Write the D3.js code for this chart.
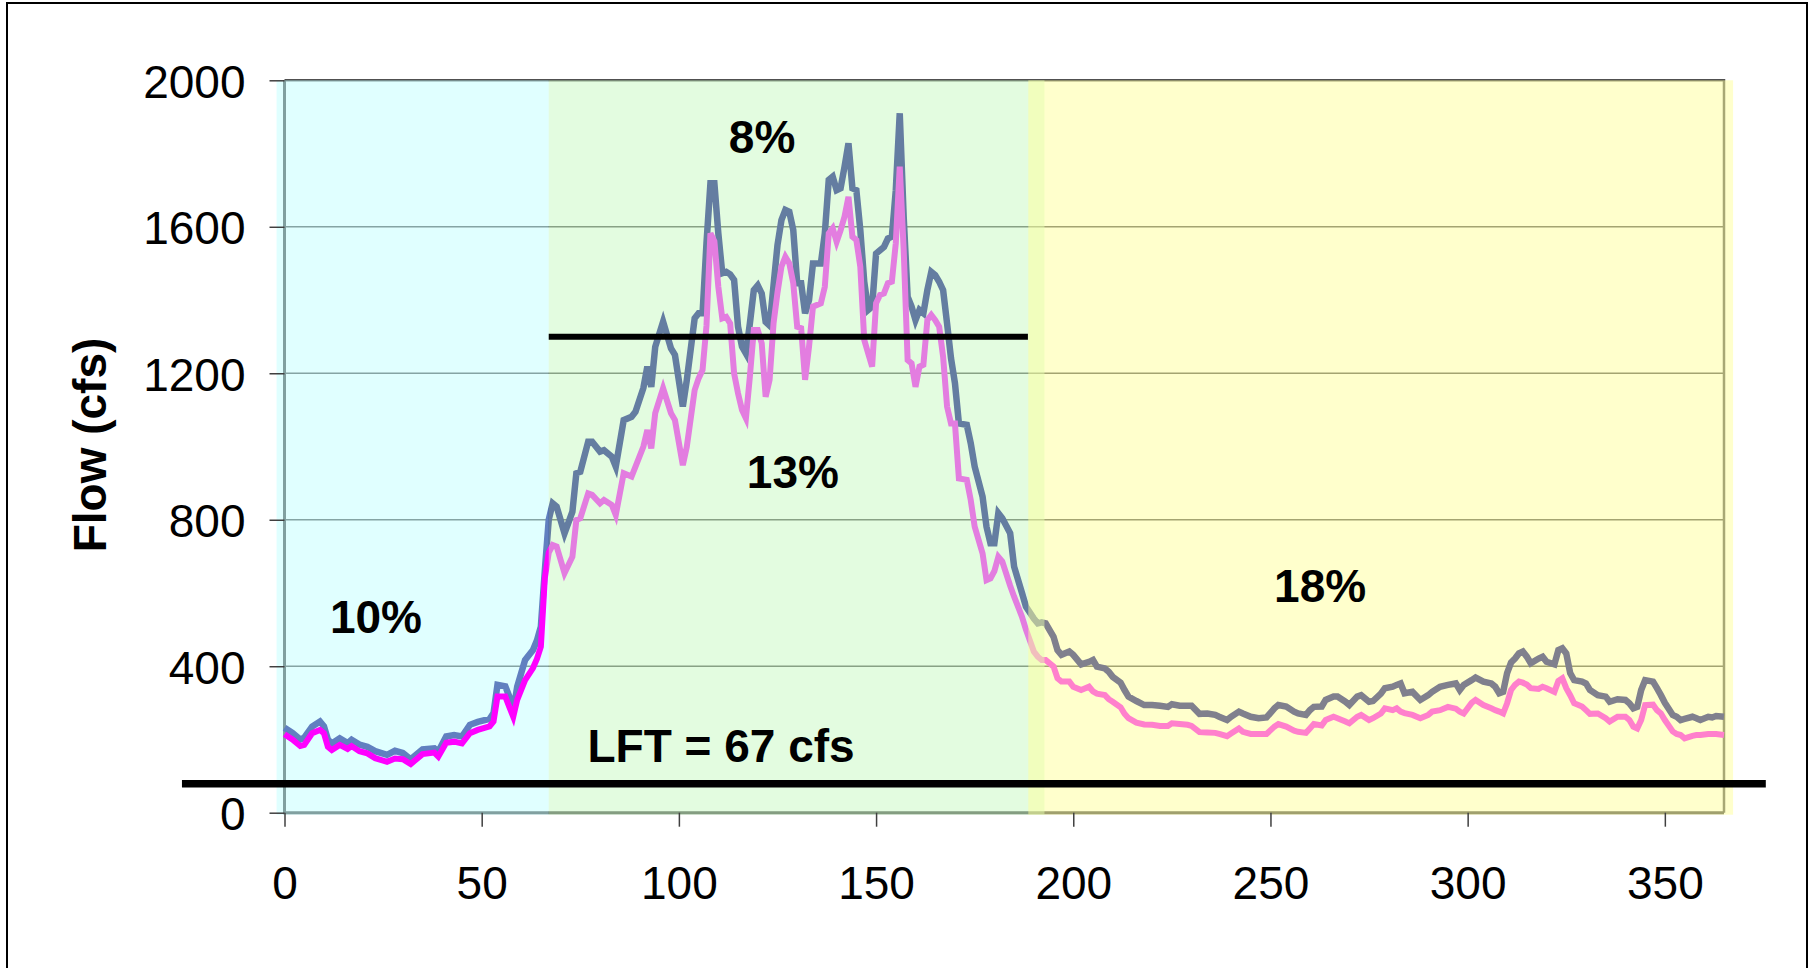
<!DOCTYPE html>
<html><head><meta charset="utf-8">
<script src="https://cdn.jsdelivr.net/npm/d3@7/dist/d3.min.js"></script>
<style>
html,body{margin:0;padding:0;background:#fff;}
svg{display:block;font-family:"Liberation Sans",Arial,Helvetica,sans-serif;}
</style>
</head><body>
<svg id="chart" width="1816" height="968"></svg>
<script>
// ---- data ----
const days = [
  0,2,4,5,7,9,10,11,12,14,
  16,17,19,21,23,26,28,30,32,35,
  38,39,41,43,45,47,49,52,53,54,
  56,57,58,59,61,63,64,65,66,67,
  68,69,71,73,74,75,77,78,80,81,
  83,84,86,88,89,91,92,93,94,96,
  98,99,101,102,104,105,106,107,108,109,
  110,111,112,113,114,115,116,117,118,119,
  120,121,122,123,124,125,126,127,128,129,
  130,131,132,133,134,136,137,138,139,140,
  141,142,143,144,145,146,147,148,149,150,
  151,152,153,154,155,156,157,158,159,160,
  161,162,163,164,165,166,167,168,169,170,
  171,173,174,175,177,178,179,180,181,182,
  184,185,187,188,190,191,192,193,195,196,
  197,199,200,202,204,205,206,208,209,210,
  212,213,214,216,218,220,222,224,225,227,
  229,230,232,234,236,237,239,240,242,243,
  245,247,249,251,252,254,256,257,259,260,
  261,263,264,266,267,269,270,272,273,275,
  276,278,279,281,282,283,284,286,288,290,
  291,293,295,297,298,299,301,302,304,306,
  307,308,309,310,311,312,313,314,315,316,
  318,319,320,322,323,324,325,326,327,329,
  330,331,333,335,336,338,340,341,342,343,
  344,345,347,348,349,350,352,353,354,355,
  357,358,359,361,362,363,365
];
const flowUnimpaired = [
  232,218,200,205,235,249,236,200,189,203,
  190,199,186,180,168,158,169,163,146,173,
  176,167,208,212,208,240,248,256,272,349,
  345,317,275,344,417,444,470,508,660,800,
  845,836,763,822,927,931,1013,1013,986,990,
  972,945,1072,1081,1095,1160,1218,1163,1272,1341,
  1268,1250,1109,1181,1350,1364,1364,1555,1719,1719,
  1582,1473,1477,1470,1455,1327,1273,1254,1336,1427,
  1440,1418,1340,1330,1440,1550,1618,1646,1641,1591,
  1446,1446,1364,1400,1500,1500,1582,1728,1737,1700,
  1705,1764,1828,1705,1700,1591,1450,1373,1382,1527,
  1536,1545,1568,1573,1700,1910,1628,1409,1382,1345,
  1373,1364,1427,1477,1468,1450,1427,1336,1241,1173,
  1063,1059,1009,945,863,781,736,736,818,804,
  763,672,600,563,530,517,520,517,480,444,
  431,440,431,405,412,417,399,394,385,371,
  355,335,317,305,294,294,292,289,296,292,
  292,292,270,271,267,262,253,262,276,271,
  262,258,260,285,294,290,276,271,267,280,
  289,290,308,317,317,303,294,317,321,303,
  305,325,340,344,349,353,326,330,308,321,
  330,344,349,353,335,349,362,369,358,353,
  344,326,330,381,410,421,435,440,426,408,
  421,426,412,405,444,449,435,381,362,358,
  353,335,321,317,303,310,308,299,285,289,
  335,362,358,340,321,300,267,262,253,256,
  262,258,253,262,260,264,262
];
const flowWithdrawal = [
  214,200,182,185,217,226,217,180,171,185,
  174,182,168,162,149,139,148,146,133,160,
  164,153,191,194,189,217,226,236,249,317,
  317,289,262,308,362,395,420,453,640,710,
  731,727,654,699,799,804,872,868,845,854,
  840,813,927,918,945,1000,1045,995,1091,1159,
  1091,1072,949,999,1154,1186,1209,1330,1582,1560,
  1436,1350,1354,1336,1200,1145,1100,1077,1191,1318,
  1318,1282,1136,1182,1336,1420,1491,1518,1500,1446,
  1327,1323,1182,1273,1382,1391,1436,1582,1596,1559,
  1590,1628,1682,1573,1564,1491,1291,1254,1218,1391,
  1414,1418,1446,1450,1555,1764,1537,1236,1227,1163,
  1218,1223,1345,1359,1345,1327,1245,1109,1063,1063,
  913,909,854,781,708,635,640,660,699,686,
  620,590,535,500,440,426,417,417,399,367,
  358,358,344,335,344,331,325,321,310,303,
  288,270,258,246,241,240,237,237,244,242,
  240,237,220,219,218,215,209,216,230,221,
  215,215,215,235,242,235,224,221,218,230,
  242,238,253,262,258,249,244,262,267,253,
  258,271,285,280,285,276,272,267,258,267,
  276,280,289,284,276,271,300,308,294,285,
  280,276,271,299,335,349,358,355,350,340,
  338,344,340,330,360,367,340,321,299,290,
  280,270,271,258,249,262,262,253,235,230,
  253,294,295,280,271,253,222,215,212,203,
  210,212,212,215,215,215,212
];
const yTicks = [0, 400, 800, 1200, 1600, 2000];
const xTicks = [0, 50, 100, 150, 200, 250, 300, 350];
const seasonStart = [-2, 67, 188.6];
const seasonEnd   = [67, 192.7, 367.3];
const highFlowLevel = 1300, highFlowFrom = 67, highFlowTo = 188.5;
const lftLevel = 79, lftFrom = -26, lftTo = 375.6;
const labelText = ["10%", "8%", "13%", "18%", "LFT = 67 cfs"];
const labelDay  = [23.2, 121.1, 128.9, 262.6, 110.7];
const labelFlow = [490.7, 1801.5, 886.7, 575.4, 138.5];

// ---- drawing ----
const svg = d3.select("#chart");
const x = d3.scaleLinear().domain([0, 365]).range([284.5, 1724]);
const y = d3.scaleLinear().domain([0, 2000]).range([812.7, 80.3]);

svg.append("rect").attr("width", 1816).attr("height", 968).attr("fill", "#fff");
svg.append("rect").attr("x", 7).attr("y", 3).attr("width", 1800).attr("height", 1000)
  .attr("fill", "none").attr("stroke", "#000").attr("stroke-width", 2);

// gridlines
svg.append("g").selectAll("line").data(yTicks.filter(d => d > 0 && d < 2000)).join("line")
  .attr("x1", x(0)).attr("x2", x(365)).attr("y1", d => y(d)).attr("y2", d => y(d))
  .attr("stroke", "#484848").attr("stroke-width", 1.4);
// plot frame
svg.append("path")
  .attr("d", `M${x(0)},${y(2000)}H${x(365)}V${y(0)}`)
  .attr("fill", "none").attr("stroke", "#505050").attr("stroke-width", 2.5);
svg.append("path")
  .attr("d", `M${x(0)},${y(2000)}V${y(0)}H${x(365)}`)
  .attr("fill", "none").attr("stroke", "#404040").attr("stroke-width", 3);

const line = d3.line().x((d, i) => x(days[i])).y(d => y(d));
const bandRect = (g, i, color) => g.append("rect")
  .attr("x", x(seasonStart[i])).attr("width", x(seasonEnd[i]) - x(seasonStart[i]))
  .attr("y", y(2000)).attr("height", y(0) - y(2000) + 2)
  .attr("fill", color).attr("fill-opacity", 0.5);

svg.append("path").attr("d", line(flowUnimpaired)).attr("fill", "none")
  .attr("stroke", "#000080").attr("stroke-width", 6.5).attr("stroke-linejoin", "miter");
bandRect(svg, 0, "rgb(193,255,255)");
svg.append("path").attr("d", line(flowWithdrawal)).attr("fill", "none")
  .attr("stroke", "#ff00ff").attr("stroke-width", 6).attr("stroke-linejoin", "miter");
bandRect(svg, 1, "rgb(199,250,193)");
bandRect(svg, 2, "rgb(255,255,153)");

// threshold lines
svg.append("line").attr("x1", x(highFlowFrom)).attr("x2", x(highFlowTo))
  .attr("y1", y(highFlowLevel)).attr("y2", y(highFlowLevel))
  .attr("stroke", "#000").attr("stroke-width", 6);
svg.append("line").attr("x1", x(lftFrom)).attr("x2", x(lftTo))
  .attr("y1", y(lftLevel)).attr("y2", y(lftLevel))
  .attr("stroke", "#000").attr("stroke-width", 7.5);

// axes
const yAxis = svg.append("g").attr("transform", `translate(${x(0)},0)`)
  .call(d3.axisLeft(y).tickValues(yTicks).tickSize(15).tickPadding(24).tickFormat(d3.format("d")));
yAxis.select(".domain").remove();
yAxis.selectAll(".tick line").attr("stroke", "#404040").attr("stroke-width", 1.5);
yAxis.selectAll(".tick text").attr("font-size", 46).attr("fill", "#000")
  .attr("font-family", '"Liberation Sans",Arial,sans-serif').attr("dy", "0.37em");

const xAxis = svg.append("g").attr("transform", `translate(0,${y(0)})`)
  .call(d3.axisBottom(x).tickValues(xTicks).tickSize(14).tickPadding(40).tickFormat(d3.format("d")));
xAxis.select(".domain").remove();
xAxis.selectAll(".tick line").attr("stroke", "#404040").attr("stroke-width", 1.5);
xAxis.selectAll(".tick text").attr("font-size", 46).attr("fill", "#000")
  .attr("font-family", '"Liberation Sans",Arial,sans-serif');

// y-axis title
svg.append("text").attr("transform", "translate(106,445) rotate(-90)")
  .attr("text-anchor", "middle").attr("font-size", 46).attr("font-weight", "bold")
  .text("Flow (cfs)");

// annotations
svg.append("g").selectAll("text").data(labelText).join("text")
  .attr("x", (d, i) => x(labelDay[i])).attr("y", (d, i) => y(labelFlow[i]))
  .attr("text-anchor", "middle").attr("font-size", 46).attr("font-weight", "bold")
  .attr("fill", "#000").text(d => d);
</script>
</body></html>
